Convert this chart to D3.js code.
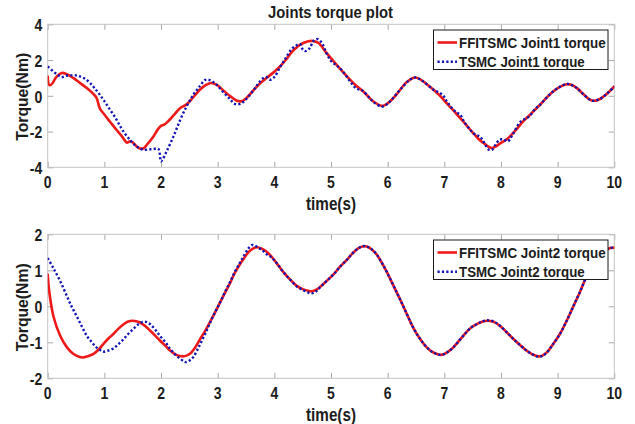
<!DOCTYPE html>
<html>
<head>
<meta charset="utf-8">
<script src="https://cdn.jsdelivr.net/npm/d3@7"></script>
<style>
  html, body { margin: 0; padding: 0; background: #fff; }
  svg { display: block; font-family: "Liberation Sans", Arial, sans-serif; }
</style>
</head>
<body>
<svg id="chart" width="635" height="424"></svg>
<script>
// ---- data -------------------------------------------------------------
const timeTicks = [0, 1, 2, 3, 4, 5, 6, 7, 8, 9, 10];
const joint1Ticks = [-4, -2, 0, 2, 4];
const joint2Ticks = [-2, -1, 0, 1, 2];

const legendJoint1 = ["FFITSMC Joint1 torque", "TSMC Joint1 torque"];
const legendJoint2 = ["FFITSMC Joint2 torque", "TSMC Joint2 torque"];

// [time (s), torque (Nm)]
const ffitsmcJoint1 = [
  [0, 1.08], [0.03, 0.6], [0.08, 0.68], [0.15, 1.05], [0.25, 1.28], [0.33, 1.22],
  [0.45, 1.0], [0.57, 0.72], [0.69, 0.43], [0.8, 0.12], [0.86, -0.1], [0.92, -0.7],
  [1.0, -1.05], [1.1, -1.45], [1.2, -1.85], [1.28, -2.15], [1.35, -2.45], [1.4, -2.62],
  [1.45, -2.55], [1.5, -2.6], [1.57, -2.83], [1.63, -2.95], [1.7, -2.92], [1.75, -2.74],
  [1.86, -2.3], [1.95, -1.85], [2.0, -1.68], [2.05, -1.62], [2.1, -1.5], [2.22, -1.1],
  [2.34, -0.68], [2.45, -0.48], [2.57, -0.08], [2.69, 0.35], [2.8, 0.62], [2.88, 0.72],
  [2.98, 0.62], [3.1, 0.3], [3.22, -0.02], [3.34, -0.28], [3.42, -0.3], [3.5, -0.15],
  [3.63, 0.3], [3.75, 0.7], [3.86, 0.99], [4.0, 1.35], [4.1, 1.64], [4.2, 2.0],
  [4.3, 2.42], [4.45, 2.85], [4.6, 3.05], [4.68, 3.07], [4.78, 2.95], [4.92, 2.4],
  [5.1, 1.73], [5.22, 1.3], [5.34, 0.89], [5.45, 0.55], [5.57, 0.24], [5.68, -0.12],
  [5.75, -0.32], [5.89, -0.56], [5.95, -0.52], [6.04, -0.32], [6.15, 0.05], [6.22, 0.34],
  [6.32, 0.72], [6.39, 0.89], [6.48, 1.02], [6.57, 0.93], [6.69, 0.65], [6.81, 0.34],
  [6.93, -0.02], [7.04, -0.41], [7.16, -0.82], [7.28, -1.25], [7.4, -1.68], [7.51, -2.09],
  [7.6, -2.4], [7.69, -2.64], [7.78, -2.85], [7.84, -2.92], [7.9, -2.85], [7.98, -2.68],
  [8.07, -2.5], [8.16, -2.27], [8.28, -1.85], [8.39, -1.43], [8.5, -1.1], [8.6, -0.78],
  [8.69, -0.5], [8.8, -0.12], [8.92, 0.24], [9.04, 0.5], [9.16, 0.65], [9.25, 0.6],
  [9.34, 0.43], [9.45, 0.1], [9.57, -0.22], [9.63, -0.28], [9.72, -0.22], [9.81, -0.04],
  [9.9, 0.2], [10, 0.52]
];

const tsmcJoint1 = [
  [0, 1.64], [0.1, 1.36], [0.2, 1.12], [0.25, 1.05], [0.32, 1.12], [0.4, 1.14],
  [0.5, 1.14], [0.57, 1.08], [0.66, 0.95], [0.75, 0.71], [0.83, 0.42], [0.92, 0.06],
  [1.0, -0.3], [1.1, -0.78], [1.2, -1.25], [1.28, -1.71], [1.36, -2.1], [1.45, -2.46],
  [1.52, -2.7], [1.57, -2.83], [1.63, -2.95], [1.69, -3.02], [1.78, -3.0], [1.86, -2.98],
  [1.95, -2.96], [2.0, -3.67], [2.03, -3.55], [2.1, -3.1], [2.22, -2.27], [2.34, -1.34],
  [2.45, -0.6], [2.57, 0.06], [2.69, 0.56], [2.78, 0.89], [2.86, 0.88], [2.98, 0.62],
  [3.1, 0.2], [3.22, -0.2], [3.3, -0.45], [3.4, -0.45], [3.5, -0.2], [3.63, 0.3],
  [3.72, 0.7], [3.8, 0.98], [3.86, 1.05], [3.92, 0.9], [4.0, 1.05], [4.1, 1.6],
  [4.2, 2.1], [4.3, 2.6], [4.38, 2.8], [4.45, 2.9], [4.5, 2.6], [4.55, 2.5],
  [4.62, 2.65], [4.7, 3.1], [4.77, 3.17], [4.85, 2.9], [4.92, 2.38], [5.0, 1.95],
  [5.1, 1.7], [5.2, 1.4], [5.34, 0.8], [5.45, 0.4], [5.55, 0.3], [5.68, -0.12],
  [5.75, -0.35], [5.89, -0.6], [5.95, -0.55], [6.04, -0.32], [6.22, 0.34], [6.39, 0.89],
  [6.48, 1.02], [6.57, 0.93], [6.81, 0.34], [6.97, 0.05], [7.04, -0.3], [7.1, -0.55],
  [7.2, -0.9], [7.28, -1.06], [7.35, -1.45], [7.51, -2.09], [7.57, -2.2], [7.63, -2.28],
  [7.7, -2.6], [7.78, -3.0], [7.84, -3.02], [7.9, -2.75], [7.98, -2.45], [8.05, -2.45],
  [8.12, -2.55], [8.2, -2.2], [8.33, -1.5], [8.42, -1.3], [8.5, -1.15], [8.6, -0.75],
  [8.69, -0.5], [8.8, -0.12], [8.92, 0.24], [9.04, 0.5], [9.16, 0.66], [9.25, 0.6],
  [9.34, 0.43], [9.45, 0.1], [9.57, -0.22], [9.63, -0.28], [9.72, -0.22], [9.81, -0.04],
  [9.9, 0.2], [10, 0.52]
];

const ffitsmcJoint2 = [
  [0, 0.88], [0.03, 0.38], [0.1, -0.27], [0.22, -0.82], [0.34, -1.14], [0.45, -1.32],
  [0.55, -1.4], [0.63, -1.42], [0.72, -1.38], [0.81, -1.32], [0.9, -1.2], [0.98, -1.05],
  [1.08, -0.88], [1.16, -0.77], [1.25, -0.62], [1.34, -0.5], [1.42, -0.42], [1.5, -0.4],
  [1.58, -0.42], [1.63, -0.45], [1.72, -0.55], [1.81, -0.68], [1.9, -0.82], [1.98, -0.95],
  [2.08, -1.1], [2.16, -1.23], [2.27, -1.35], [2.39, -1.39], [2.45, -1.37], [2.51, -1.32],
  [2.6, -1.15], [2.69, -0.91], [2.78, -0.68], [2.86, -0.45], [2.95, -0.18], [3.04, 0.1],
  [3.13, 0.38], [3.22, 0.65], [3.3, 0.92], [3.39, 1.16], [3.47, 1.35], [3.54, 1.5],
  [3.62, 1.6], [3.69, 1.64], [3.78, 1.6], [3.86, 1.52], [3.95, 1.38], [4.04, 1.2],
  [4.16, 0.95], [4.28, 0.74], [4.4, 0.56], [4.51, 0.47], [4.6, 0.43], [4.66, 0.42],
  [4.74, 0.46], [4.81, 0.54], [4.92, 0.7], [5.04, 0.88], [5.16, 1.1], [5.28, 1.29],
  [5.38, 1.47], [5.48, 1.61], [5.56, 1.66], [5.63, 1.66], [5.72, 1.58], [5.81, 1.43],
  [5.9, 1.2], [5.98, 0.97], [6.1, 0.58], [6.22, 0.19], [6.34, -0.22], [6.45, -0.59],
  [6.57, -0.9], [6.69, -1.14], [6.78, -1.26], [6.86, -1.32], [6.95, -1.35], [7.05, -1.28],
  [7.16, -1.14], [7.28, -0.92], [7.39, -0.72], [7.48, -0.58], [7.57, -0.5], [7.68, -0.42],
  [7.78, -0.4], [7.88, -0.44], [7.98, -0.54], [8.1, -0.72], [8.22, -0.91], [8.34, -1.08],
  [8.45, -1.23], [8.56, -1.34], [8.66, -1.39], [8.73, -1.37], [8.81, -1.28], [8.92, -1.05],
  [9.04, -0.77], [9.16, -0.4], [9.28, 0.01], [9.4, 0.42], [9.51, 0.83], [9.6, 1.08],
  [9.69, 1.29], [9.78, 1.45], [9.86, 1.57], [9.93, 1.62], [10, 1.63]
];

const tsmcJoint2 = [
  [0, 1.34], [0.1, 1.06], [0.22, 0.7], [0.34, 0.28], [0.42, 0.0], [0.51, -0.27],
  [0.6, -0.55], [0.69, -0.82], [0.78, -1.0], [0.86, -1.14], [0.93, -1.22], [0.98, -1.26],
  [1.05, -1.24], [1.16, -1.17], [1.25, -1.05], [1.34, -0.91], [1.42, -0.77], [1.51, -0.63],
  [1.6, -0.5], [1.69, -0.43], [1.75, -0.44], [1.81, -0.5], [1.9, -0.65], [1.98, -0.82],
  [2.08, -1.0], [2.16, -1.18], [2.25, -1.34], [2.34, -1.46], [2.42, -1.54], [2.45, -1.55],
  [2.51, -1.5], [2.57, -1.41], [2.66, -1.15], [2.75, -0.86], [2.84, -0.55], [2.92, -0.27],
  [3.04, 0.1], [3.13, 0.4], [3.22, 0.68], [3.3, 0.95], [3.39, 1.2], [3.47, 1.42],
  [3.54, 1.6], [3.6, 1.7], [3.66, 1.68], [3.72, 1.62], [3.78, 1.57], [3.86, 1.45],
  [3.95, 1.36], [4.04, 1.2], [4.16, 0.95], [4.28, 0.74], [4.4, 0.55], [4.51, 0.45],
  [4.6, 0.38], [4.66, 0.36], [4.74, 0.42], [4.81, 0.53], [4.92, 0.7], [5.04, 0.88],
  [5.16, 1.1], [5.28, 1.29], [5.38, 1.47], [5.48, 1.61], [5.56, 1.67], [5.63, 1.66],
  [5.72, 1.58], [5.81, 1.43], [5.9, 1.2], [5.98, 0.97], [6.1, 0.58], [6.22, 0.19],
  [6.34, -0.22], [6.45, -0.59], [6.57, -0.9], [6.69, -1.14], [6.78, -1.26], [6.86, -1.32],
  [6.95, -1.35], [7.05, -1.28], [7.16, -1.14], [7.28, -0.92], [7.39, -0.72], [7.48, -0.58],
  [7.57, -0.5], [7.68, -0.41], [7.78, -0.39], [7.88, -0.43], [7.98, -0.54], [8.1, -0.72],
  [8.22, -0.91], [8.34, -1.08], [8.45, -1.23], [8.56, -1.34], [8.66, -1.4], [8.73, -1.38],
  [8.81, -1.28], [8.92, -1.05], [9.04, -0.77], [9.16, -0.4], [9.28, 0.01], [9.4, 0.42],
  [9.51, 0.83], [9.6, 1.08], [9.69, 1.29], [9.78, 1.45], [9.86, 1.57], [9.93, 1.62], [10, 1.63]
];

// ---- layout & style ---------------------------------------------------
const RED = "#ee1a1a";
const BLUE = "#1414b4";
const TEXT = "#1c1c1c";
const BOX = "#c4c4c4";
const TICK = "#a8a8a8";

const plotLeft = 47.7, plotRight = 614.3;

const panels = [
  { top: 24.3, bottom: 167.3, domain: [-4, 4], ticks: joint1Ticks,
    red: ffitsmcJoint1, blue: tsmcJoint1, legend: legendJoint1 },
  { top: 234.3, bottom: 378.3, domain: [-2, 2], ticks: joint2Ticks,
    red: ffitsmcJoint2, blue: tsmcJoint2, legend: legendJoint2 }
];

const svg = d3.select("#chart");
const x = d3.scaleLinear().domain([0, 10]).range([plotLeft, plotRight]);

svg.append("text")
  .attr("x", 330.5).attr("y", 18.3)
  .attr("text-anchor", "middle")
  .attr("font-size", 16).attr("font-weight", "bold")
  .attr("fill", TEXT)
  .attr("textLength", 125).attr("lengthAdjust", "spacingAndGlyphs")
  .text("Joints torque plot");

panels.forEach((p, i) => {
  const y = d3.scaleLinear().domain(p.domain).range([p.bottom, p.top]);
  const g = svg.append("g");

  const clipId = "clip" + i;
  g.append("clipPath").attr("id", clipId)
    .append("rect")
    .attr("x", plotLeft).attr("y", p.top)
    .attr("width", plotRight - plotLeft).attr("height", p.bottom - p.top);

  // inward ticks on all four sides
  const tickLen = 5.5;
  const axes = [
    [d3.axisBottom(x).tickValues(timeTicks), `translate(0,${p.bottom})`],
    [d3.axisTop(x).tickValues(timeTicks), `translate(0,${p.top})`],
    [d3.axisLeft(y).tickValues(p.ticks), `translate(${plotLeft},0)`],
    [d3.axisRight(y).tickValues(p.ticks), `translate(${plotRight},0)`]
  ];
  axes.forEach(([ax, tr]) => {
    const a = g.append("g").attr("transform", tr)
      .call(ax.tickSizeInner(-tickLen).tickSizeOuter(0).tickFormat(""));
    a.select(".domain").remove();
    a.selectAll(".tick line").attr("stroke", TICK).attr("stroke-width", 1);
  });

  // plot box
  g.append("rect")
    .attr("x", plotLeft).attr("y", p.top)
    .attr("width", plotRight - plotLeft).attr("height", p.bottom - p.top)
    .attr("fill", "none").attr("stroke", BOX).attr("stroke-width", 1);

  // tick labels
  g.append("g").selectAll("text").data(timeTicks).join("text")
    .attr("transform", d => `translate(${x(d)},${p.bottom + 20.7}) scale(0.86,1)`)
    .attr("text-anchor", "middle")
    .attr("font-size", 16.3).attr("font-weight", "bold").attr("fill", TEXT)
    .text(d => d);

  g.append("g").selectAll("text").data(p.ticks).join("text")
    .attr("transform", d => `translate(${plotLeft - 5.5},${y(d) + 6.8}) scale(0.86,1)`)
    .attr("text-anchor", "end")
    .attr("font-size", 16.3).attr("font-weight", "bold").attr("fill", TEXT)
    .text(d => d);

  // axis titles
  g.append("text")
    .attr("x", (plotLeft + plotRight) / 2).attr("y", p.bottom + 43)
    .attr("text-anchor", "middle")
    .attr("font-size", 18).attr("font-weight", "bold").attr("fill", TEXT)
    .attr("textLength", 50).attr("lengthAdjust", "spacingAndGlyphs")
    .text("time(s)");

  g.append("text")
    .attr("transform", `translate(${22.5 + 5.5},${(p.top + p.bottom) / 2 + 1}) rotate(-90)`)
    .attr("text-anchor", "middle")
    .attr("font-size", 15.6).attr("font-weight", "bold").attr("fill", TEXT)
    .attr("textLength", 88).attr("lengthAdjust", "spacingAndGlyphs")
    .text("Torque(Nm)");

  // series
  const line = d3.line()
    .x(d => x(d[0])).y(d => y(d[1]))
    .curve(d3.curveCatmullRom.alpha(0.5));

  const lines = g.append("g").attr("clip-path", `url(#${clipId})`);
  lines.append("path").datum(p.red)
    .attr("d", line).attr("fill", "none")
    .attr("stroke", RED).attr("stroke-width", 2.6)
    .attr("stroke-linejoin", "round").attr("stroke-linecap", "round");
  lines.append("path").datum(p.blue)
    .attr("d", line).attr("fill", "none")
    .attr("stroke", BLUE).attr("stroke-width", 2.4)
    .attr("stroke-dasharray", "2.2,2.2");

  // legend
  const lx = 433.5, ly = p.top + 5.7, lw = 174.5, lh = 39.5;
  const lg = g.append("g");
  lg.append("rect")
    .attr("x", lx).attr("y", ly).attr("width", lw).attr("height", lh)
    .attr("fill", "#fff").attr("stroke", "#1a1a1a").attr("stroke-width", 1);
  const rows = [
    { label: p.legend[0], color: RED, dash: null, width: 2.6, tl: 146.7 },
    { label: p.legend[1], color: BLUE, dash: "2.2,2.2", width: 2.4, tl: 125.7 }
  ];
  rows.forEach((r, k) => {
    const cy = ly + 12.5 + k * 19.3;
    lg.append("line")
      .attr("x1", lx + 4).attr("x2", lx + 23.5)
      .attr("y1", cy).attr("y2", cy)
      .attr("stroke", r.color).attr("stroke-width", r.width)
      .attr("stroke-dasharray", r.dash);
    lg.append("text")
      .attr("x", lx + 25.5).attr("y", cy + 5.4)
      .attr("font-size", 15).attr("font-weight", "bold").attr("fill", TEXT)
      .attr("textLength", r.tl).attr("lengthAdjust", "spacingAndGlyphs")
      .text(r.label);
  });
});
</script>
</body>
</html>
